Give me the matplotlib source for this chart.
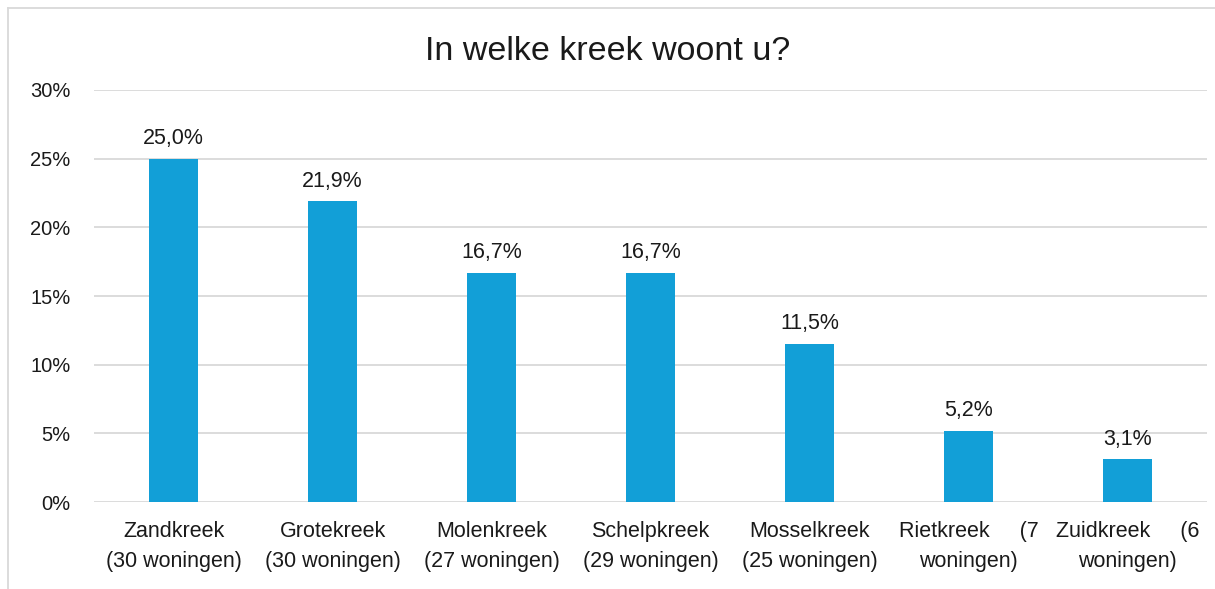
import matplotlib

matplotlib.use("Agg")
import matplotlib.pyplot as plt
from matplotlib.lines import Line2D

categories = [
    "Zandkreek\n(30 woningen)",
    "Grotekreek\n(30 woningen)",
    "Molenkreek\n(27 woningen)",
    "Schelpkreek\n(29 woningen)",
    "Mosselkreek\n(25 woningen)",
    "Rietkreek     (7\nwoningen)",
    "Zuidkreek     (6\nwoningen)",
]
values = [25.0, 21.9, 16.7, 16.7, 11.5, 5.2, 3.1]
yticks = [0, 5, 10, 15, 20, 25, 30]

plt.rcParams["font.family"] = ["Liberation Sans", "DejaVu Sans"]

fig = plt.figure(figsize=(12.15, 5.89), dpi=100)
ax = fig.add_axes([0.0774, 0.1477, 0.9160, 0.6995])

x = list(range(len(categories)))
ax.bar(x, values, width=0.31, color="#129FD7", zorder=3)

for xi, v in zip(x, values):
    ax.annotate(f"{v:.1f}%".replace(".", ","), xy=(xi, v), xytext=(0, 7),
                textcoords="offset points", ha="center", va="bottom",
                fontsize=15.5, color="#1a1a1a")

ax.set_xlim(-0.5, len(categories) - 0.5)
ax.set_ylim(0, 30)
ax.set_yticks(yticks)
ax.set_yticklabels([f"{t}%" for t in yticks], fontsize=14.5, color="#1a1a1a")
ax.set_xticks(x)
ax.set_xticklabels(categories, fontsize=15.5, color="#1a1a1a", linespacing=1.55)
ax.tick_params(axis="y", length=0, pad=17)
ax.tick_params(axis="x", length=0, pad=14)
ax.grid(axis="y", color="#d9d9d9", lw=1.3, zorder=0)
for s in ax.spines.values():
    s.set_visible(False)

fig.text(0.5, 0.912, "In welke kreek woont u?", ha="center", va="center",
         fontsize=24.5, color="#1a1a1a")

# chart frame (left and top edges visible)
fig.add_artist(Line2D([8 / 1215, 8 / 1215], [0, 1 - 8 / 589], color="#d9d9d9", lw=1.3))
fig.add_artist(Line2D([8 / 1215, 1], [1 - 8 / 589, 1 - 8 / 589], color="#d9d9d9", lw=1.3))

fig.savefig("out.png", dpi=100)
